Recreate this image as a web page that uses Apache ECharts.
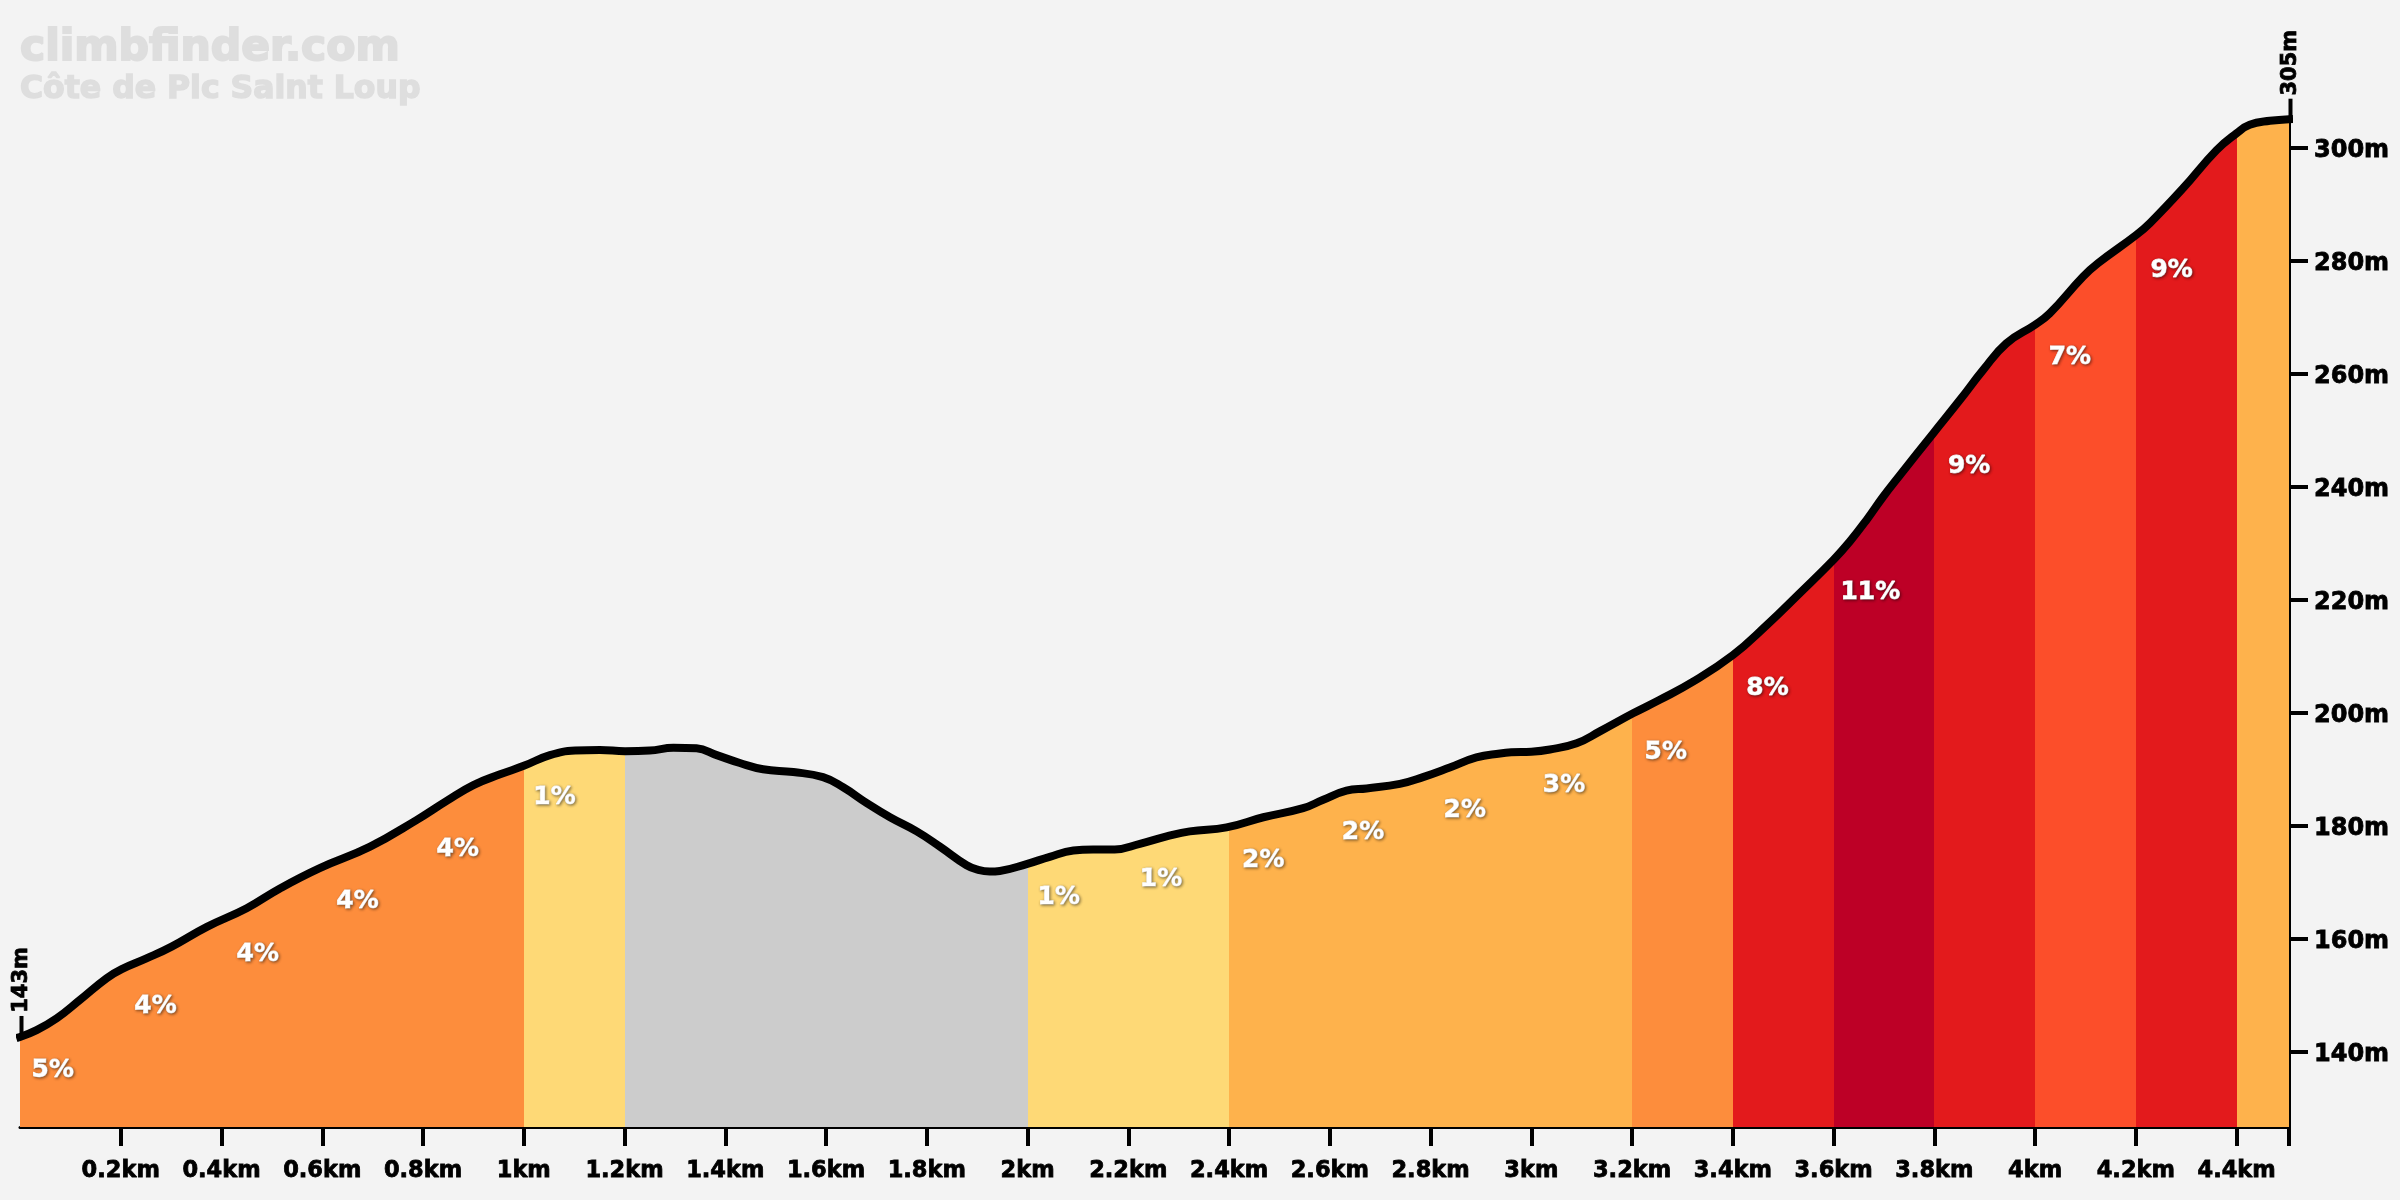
<!DOCTYPE html>
<html><head><meta charset="utf-8">
<style>html,body{margin:0;padding:0;background:#f3f3f3}#c{width:2400px;height:1200px}</style>
<script src="https://cdn.jsdelivr.net/npm/echarts@6/dist/echarts.min.js"></script>
</head><body><div id="c"></div>
<script>
const siteName = 'climbfinder.com';
const climbName = 'Côte de Pic Saint Loup';
const distanceKm = [0,0.033,0.073,0.119,0.172,0.202,0.251,0.301,0.371,0.45,0.516,0.595,0.695,0.787,0.847,0.9,0.953,1.0,1.052,1.102,1.151,1.201,1.25,1.297,1.343,1.383,1.429,1.475,1.535,1.594,1.634,1.681,1.727,1.78,1.826,1.879,1.902,1.925,1.945,1.998,2.044,2.091,2.13,2.173,2.223,2.276,2.322,2.395,2.468,2.547,2.587,2.633,2.673,2.739,2.785,2.838,2.891,2.938,2.96,3.0,3.037,3.09,3.136,3.202,3.255,3.321,3.4,3.467,3.533,3.6,3.632,3.666,3.698,3.732,3.798,3.851,3.897,3.943,4.0,4.029,4.095,4.125,4.201,4.228,4.294,4.36,4.4,4.426,4.466,4.504];
const elevationM = [142.6,143.8,145.9,149.15,153,154.6,156.5,158.6,162.1,165.4,168.9,172.5,176.3,181,184.4,187.2,189.1,190.6,192.5,193.3,193.4,193.2,193.3,193.8,193.7,192.5,191.1,190,189.5,188.6,186.8,184,181.5,179,176.3,173,172.2,171.9,172,173.2,174.5,175.6,175.8,175.8,176.8,178.1,179,179.7,181.5,183.1,184.6,186.2,186.6,187.4,188.6,190.3,192.1,192.8,193,193.1,193.5,194.6,196.7,199.9,202.3,205.5,210.2,215.5,221.2,227.1,230.3,234.2,238.2,242.1,249.5,255.4,260.7,265.4,268.7,270.7,277.2,279.6,284.6,286.7,292.9,299.6,302.6,304.1,304.8,305.1];
const segmentStartKm = [0,1,1.2,2,2.4,3.2,3.4,3.6,3.8,4,4.2,4.4];
const segmentEndKm = [1,1.2,2,2.4,3.2,3.4,3.6,3.8,4,4.2,4.4,4.6];
const segmentColors = ['#FD8D3C','#FED976','#CCCCCC','#FED976','#FEB24C','#FD8D3C','#E31A1C','#BD0026','#E31A1C','#FC4E2A','#E31A1C','#FEB24C'];
const gradeLabels = ['5%','4%','4%','4%','4%','1%','1%','1%','2%','2%','2%','3%','5%','8%','11%','9%','7%','9%'];
const gradeLabelKm = [0.065,0.269,0.472,0.670,0.869,1.061,2.062,2.265,2.468,2.666,2.868,3.065,3.267,3.469,3.673,3.869,4.069,4.271];
const gradeLabelM = [137.1,148.4,157.6,166.9,176.1,185.3,167.6,170.8,174.2,179.2,183.1,187.5,193.4,204.7,221.7,244,263.2,278.7];
const xTickKm = [0.2,0.4,0.6,0.8,1,1.2,1.4,1.6,1.8,2,2.2,2.4,2.6,2.8,3,3.2,3.4,3.6,3.8,4,4.2,4.4,4.504];
const xTickLabels = ['0.2km','0.4km','0.6km','0.8km','1km','1.2km','1.4km','1.6km','1.8km','2km','2.2km','2.4km','2.6km','2.8km','3km','3.2km','3.4km','3.6km','3.8km','4km','4.2km','4.4km',''];
const yTickM = [140,160,180,200,220,240,260,280,300];
const endLabels = ['143m','305m'];
const endKm = [0,4.504];
const endM = [142.6,305];
const xMax = 4.504, yMin = 126.66, yMax = 305.3;

const FONT = '"DejaVu Sans"';
const chart = echarts.init(document.getElementById('c'), null, {renderer:'canvas', width:2400, height:1200});
const pair = (a,b)=>a.map((v,i)=>[v,b[i]]);
const profile = pair(distanceKm, elevationM);

chart.setOption({
  animation:false,
  backgroundColor:'#f3f3f3',
  title:[
    {text:siteName,left:20,top:27,padding:0,textStyle:{fontFamily:FONT,fontWeight:'bold',fontSize:42.5,color:'#dedede',textBorderColor:'#dedede',textBorderWidth:2}},
    {text:climbName,left:20,top:74,padding:0,textStyle:{fontFamily:FONT,fontWeight:'bold',fontSize:31.5,color:'#dedede',textBorderColor:'#dedede',textBorderWidth:1.5}}
  ],
  grid:{left:20,right:111,top:118,bottom:73,containLabel:false},
  xAxis:{type:'value',min:0,max:xMax,splitLine:{show:false},
    axisLine:{show:true,lineStyle:{color:'#000',width:3}},
    axisTick:{show:true,length:19,lineStyle:{color:'#000',width:4},customValues:xTickKm},
    axisLabel:{show:true,margin:33,hideOverlap:false,showMinLabel:true,showMaxLabel:true,customValues:xTickKm,
      fontFamily:FONT,fontWeight:'bold',fontSize:22.5,color:'#000',textBorderColor:'#000',textBorderWidth:0.8,
      formatter:v=>{const i=xTickKm.indexOf(v);return i>=0?xTickLabels[i]:'';}}
  },
  yAxis:{type:'value',position:'right',min:yMin,max:yMax,splitLine:{show:false},
    axisLine:{show:true,onZero:false,lineStyle:{color:'#000',width:3}},
    axisTick:{show:true,length:19,lineStyle:{color:'#000',width:4},customValues:yTickM},
    axisLabel:{show:true,margin:25,customValues:yTickM,
      formatter:v=>'{a|'+v+'m}',
      rich:{a:{padding:[6,0,0,0],fontFamily:FONT,fontWeight:'bold',fontSize:24,color:'#000',textBorderColor:'#000',textBorderWidth:0.8}}}
  },
  visualMap:{type:'piecewise',show:false,seriesIndex:0,dimension:0,
    pieces:segmentStartKm.map((s,i)=>({gte:s,lt:segmentEndKm[i],color:segmentColors[i]}))},
  series:[
    {type:'line',data:profile,smooth:0.45,showSymbol:false,lineStyle:{width:0,opacity:0},areaStyle:{opacity:1,origin:'start'},z:1,silent:true},
    {type:'line',data:profile,smooth:0.45,showSymbol:false,clip:false,itemStyle:{color:'#000'},lineStyle:{color:'#000',width:8,cap:'square',join:'round'},z:5,silent:true},
    {type:'scatter',data:pair(gradeLabelKm,gradeLabelM),symbolSize:1,itemStyle:{color:'rgba(0,0,0,0)',opacity:1},z:6,silent:true,
      label:{show:true,position:'inside',align:'center',verticalAlign:'middle',offset:[0,2],fontFamily:FONT,fontWeight:'bold',fontSize:25,color:'#fff',
        textBorderColor:'#fff',textBorderWidth:0.8,
        textShadowColor:'rgba(0,0,0,0.45)',textShadowBlur:3,textShadowOffsetX:1,textShadowOffsetY:1,
        formatter:p=>gradeLabels[p.dataIndex]}},
    {type:'scatter',data:pair(endKm,endM),clip:false,symbol:'rect',symbolSize:[4,22],symbolOffset:[1.5,-10],itemStyle:{color:'#000',opacity:1},z:6,silent:true,
      label:{show:true,position:'inside',rotate:90,align:'center',verticalAlign:'middle',offset:[47,0],fontFamily:FONT,fontWeight:'bold',fontSize:21,color:'#000',textBorderColor:'#000',textBorderWidth:0.8,
        formatter:p=>endLabels[p.dataIndex]}}
  ]
});
</script></body></html>
